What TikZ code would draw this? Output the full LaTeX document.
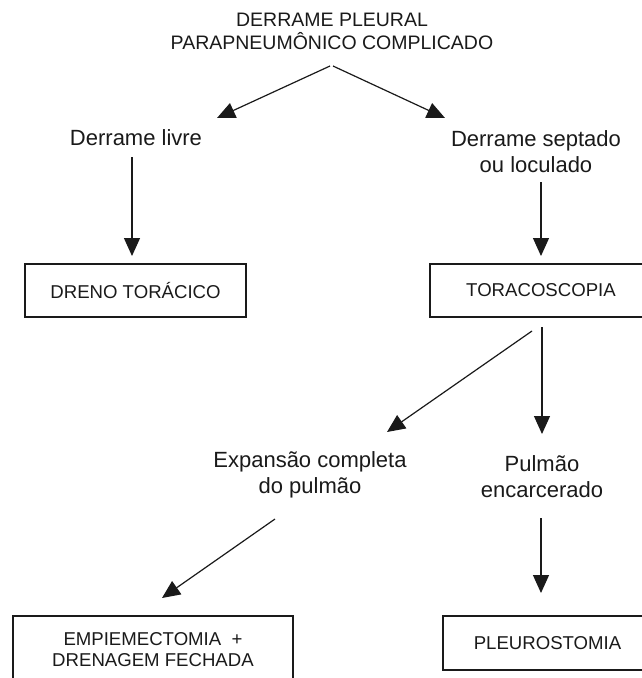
\documentclass[tikz,border=0pt]{standalone}
\usepackage{fontspec}
\setmainfont{Liberation Sans}
\usetikzlibrary{arrows.meta}
\definecolor{ink}{HTML}{1A1A1A}
\begin{document}
\begin{tikzpicture}[x=1pt,y=-1pt,
  lbl/.style={text=ink,align=center,inner sep=0pt,font=\fontsize{22}{26}\selectfont},
  ttl/.style={text=ink,align=center,inner sep=0pt,font=\fontsize{19.5}{23}\selectfont},
  boxnode/.style={draw=ink,line width=1.2pt,text=ink,align=center,inner sep=0pt,font=\fontsize{18.6}{21}\selectfont},
  arr/.style={draw=ink,line width=1.2pt,-{Triangle[length=18pt,width=16pt]}}]
\useasboundingbox (0,0) rectangle (642,678);
\fill[white] (0,0) rectangle (642,678);
% texts
\node[ttl] (title) at (332,31.5) {DERRAME PLEURAL\\PARAPNEUM\^ONICO COMPLICADO};
\node[lbl] (dl) at (136,138) {Derrame livre};
\node[lbl] (ds) at (536,152) {Derrame septado\\ou loculado};
\node[lbl] (exp) at (310,475) {Expans\~ao completa\\do pulm\~ao};
\node[lbl] (pul) at (542,477) {Pulm\~ao\\encarcerado};
% boxes
\node[boxnode,minimum width=221pt,minimum height=53pt] (dreno) at (135.5,290.5) {DRENO TOR\'ACICO};
\node[boxnode,minimum width=222pt,minimum height=53pt] (tora) at (541,290.5) {TORACOSCOPIA};
\node[boxnode,minimum width=280pt,minimum height=68pt] (emp) at (153,650) {EMPIEMECTOMIA \ +\\DRENAGEM FECHADA};
\node[boxnode,minimum width=209pt,minimum height=54pt] (pleu) at (547.5,643) {PLEUROSTOMIA};
% connector end points
\coordinate (t1) at (330,66);
\coordinate (t2) at (333,66);
\coordinate (dlT) at (217,118);
\coordinate (dsT) at (445,118);
\coordinate (dlB) at (132,157);
\coordinate (drT) at (132,256);
\coordinate (dsB) at (541,182);
\coordinate (toT) at (541,256);
\coordinate (toB1) at (532,331);
\coordinate (exT) at (387,432);
\coordinate (toB2) at (542,327);
\coordinate (puT) at (542,434);
\coordinate (exB) at (275,519);
\coordinate (emT) at (162,598);
\coordinate (puB) at (541,518);
\coordinate (plT) at (541,593);
% connectors
\draw[arr] (t1) -- (dlT);
\draw[arr] (t2) -- (dsT);
\draw[arr] (dlB) -- (drT);
\draw[arr] (dsB) -- (toT);
\draw[arr] (toB1) -- (exT);
\draw[arr] (toB2) -- (puT);
\draw[arr] (exB) -- (emT);
\draw[arr] (puB) -- (plT);
\end{tikzpicture}
\end{document}
